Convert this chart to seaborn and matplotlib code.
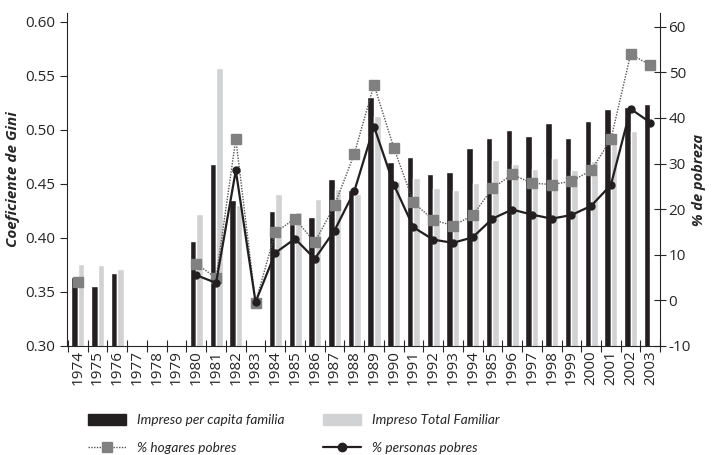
import numpy as np
import pandas as pd
import seaborn as sns
import matplotlib.pyplot as plt
from matplotlib.lines import Line2D
from matplotlib.patches import Patch

# years and the tick labels as printed (the source repeats "1985" instead of 1995)
years = list(range(1974, 2004))
tick_labels = ["1974", "1975", "1976", "1977", "1978", "1979", "1980", "1981", "1982", "1983",
               "1984", "1985", "1986", "1987", "1988", "1989", "1990", "1991", "1992", "1993",
               "1994", "1985", "1996", "1997", "1998", "1999", "2000", "2001", "2002", "2003"]

nan = np.nan
gini_pc = [0.364, 0.355, 0.367, nan, nan, nan, 0.397, 0.468, 0.435, nan,
           0.425, 0.413, 0.419, 0.454, 0.444, 0.530, 0.470, 0.475, 0.459, 0.461,
           0.483, 0.492, 0.500, 0.494, 0.506, 0.492, 0.508, 0.519, 0.521, 0.524]
gini_total = [0.376, 0.375, 0.371, nan, nan, nan, 0.422, 0.557, 0.430, nan,
              0.441, 0.424, 0.436, 0.445, 0.441, 0.513, 0.453, 0.455, 0.446, 0.444,
              0.451, 0.472, 0.468, 0.464, 0.474, 0.463, 0.471, 0.494, 0.499, nan]
hogares = [3.9, nan, nan, nan, nan, nan, 8.0, 4.9, 35.4, -0.5,
           14.9, 17.9, 12.7, 20.8, 32.1, 47.3, 33.5, 21.5, 17.6, 16.4,
           18.6, 24.6, 27.6, 25.7, 25.4, 26.1, 28.5, 35.3, 54.0, 51.6]
personas = [nan, nan, nan, nan, nan, nan, 5.5, 3.8, 28.5, -0.4,
            10.4, 13.5, 9.1, 15.3, 23.9, 38.1, 25.4, 16.0, 13.3, 12.6,
            13.8, 17.9, 19.9, 18.8, 17.9, 18.7, 20.7, 25.3, 42.0, 39.0]

black = "#231f20"
light = "#d1d2d3"
sq_gray = "#808080"

df = pd.DataFrame({
    "year": [str(y) for y in years] * 2,
    "gini": gini_pc + gini_total,
    "serie": ["Impreso per capita familia"] * len(years) + ["Impreso Total Familiar"] * len(years),
})

sns.set_style("ticks")
plt.rcParams["font.family"] = ["Open Sans", "DejaVu Sans"]
narrow = ["Lato", "DejaVu Sans"]

fig, ax = plt.subplots(figsize=(7.13, 4.55), dpi=100)
fig.subplots_adjust(left=0.094, right=0.926, top=0.971, bottom=0.24)

sns.barplot(data=df, x="year", y="gini", hue="serie", order=[str(y) for y in years],
            palette=[black, light], width=0.66, saturation=1, ax=ax, legend=False)
ax.set_ylim(0.30, 0.608)
ax.set_yticks(np.arange(0.30, 0.601, 0.05))
ax.set_yticklabels([f"{v:.2f}" for v in np.arange(0.30, 0.601, 0.05)], fontsize=11)
ax.set_xlim(-0.55, 29.5)
ax.set_xticks(range(len(years)))
ax.set_xticklabels(tick_labels, rotation=90, fontsize=11)
ax.tick_params(axis="x", length=0, pad=3)
ax.set_xticks(np.arange(-0.5, 29.6, 1), minor=True)
ax.tick_params(axis="x", which="minor", length=8, direction="inout", width=0.8)
ax.tick_params(axis="y", length=5, width=0.8, direction="out")
ax.set_xlabel("")
ax.set_ylabel("Coeficiente de Gini", fontsize=11, style="italic", fontweight="bold", labelpad=4)
for s in ["top", "right"]:
    ax.spines[s].set_visible(False)
ax.spines["left"].set_linewidth(0.8)
ax.spines["bottom"].set_linewidth(0.8)

ax2 = ax.twinx()
x = np.arange(len(years))
ax2.plot(x, hogares, ls=(0, (1, 1)), lw=1, color="#555555", marker="s", ms=7,
         mfc=sq_gray, mec=sq_gray)
ax2.plot(x, personas, ls="-", lw=1.6, color=black, marker="o", ms=5, mfc=black, mec=black)
ax2.set_ylim(-10, 63)
ax2.set_yticks(range(-10, 61, 10))
ax2.set_yticklabels([str(v) for v in range(-10, 61, 10)], fontsize=11)
ax2.tick_params(axis="y", length=8, width=0.8, direction="inout", pad=2)
ax2.set_ylabel("% de pobreza", fontsize=10.5, style="italic", fontweight="bold", labelpad=1)
for s in ["top", "left", "bottom"]:
    ax2.spines[s].set_visible(False)
ax2.spines["right"].set_linewidth(0.8)

handles = [
    Patch(color=black),
    Line2D([], [], ls=(0, (1, 1)), lw=1, color="#555555", marker="s", ms=7, mfc=sq_gray, mec=sq_gray),
    Patch(color=light),
    Line2D([], [], ls="-", lw=1.6, color=black, marker="o", ms=6, mfc=black, mec=black),
]
labels = ["Impreso per capita familia", "% hogares pobres",
          "Impreso Total Familiar", "% personas pobres"]
fig.legend(handles, labels, ncol=2, loc="upper left", bbox_to_anchor=(0.112, 0.108),
           frameon=False, prop={"style": "italic", "size": 9.8, "family": narrow},
           handlelength=2.8, handletextpad=0.8, columnspacing=2.8, labelspacing=1.15,
           handleheight=0.8, borderaxespad=0.2)

fig.savefig("out.png", dpi=100)
